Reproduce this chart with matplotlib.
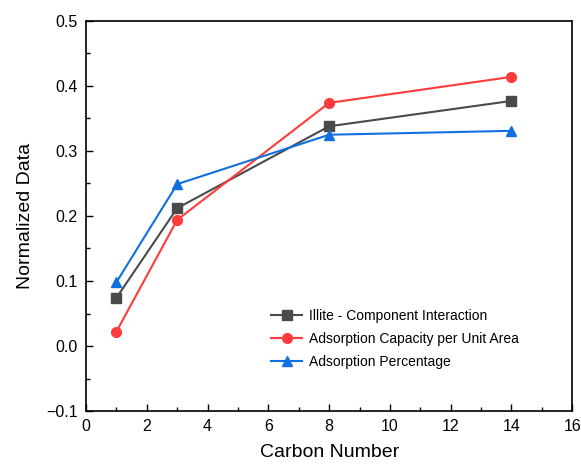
import matplotlib
matplotlib.use("Agg")
import matplotlib.pyplot as plt
from matplotlib.ticker import MultipleLocator, FuncFormatter

plt.rcParams["font.family"] = ["Liberation Sans", "DejaVu Sans"]

carbon = [1, 3, 8, 14]
illite = [0.074, 0.212, 0.338, 0.377]
capacity = [0.022, 0.194, 0.374, 0.414]
percentage = [0.098, 0.249, 0.325, 0.331]

fig = plt.figure(figsize=(5.81, 4.66), dpi=100)
ax = fig.add_axes([0.148, 0.118, 0.837, 0.837])

ax.plot(carbon, illite, color="#4a4a4a", marker="s", ms=6.5, lw=1.5,
        label="Illite - Component Interaction")
ax.plot(carbon, capacity, color="#ff3b3b", marker="o", ms=7, lw=1.5,
        label="Adsorption Capacity per Unit Area")
ax.plot(carbon, percentage, color="#1170e0", marker="^", ms=7.5, lw=1.5,
        label="Adsorption Percentage")

ax.set_xlim(0, 16)
ax.set_ylim(-0.1, 0.5)
ax.xaxis.set_major_locator(MultipleLocator(2))
ax.xaxis.set_minor_locator(MultipleLocator(1))
ax.yaxis.set_major_locator(MultipleLocator(0.1))
ax.yaxis.set_minor_locator(MultipleLocator(0.05))
ax.yaxis.set_major_formatter(FuncFormatter(lambda v, p: f"{v:.1f}".replace("-", "\u2212")))
ax.tick_params(which="both", direction="in", labelsize=11.5, width=1, pad=6)
ax.tick_params(which="major", length=5)
ax.tick_params(which="minor", length=3)
for s in ax.spines.values():
    s.set_linewidth(1.2)

ax.set_xlabel("Carbon Number", fontsize=14, labelpad=7)
ax.set_ylabel("Normalized Data", fontsize=14, labelpad=9)

ax.legend(loc="upper left", bbox_to_anchor=(0.37, 0.275), frameon=False,
          fontsize=10, handlelength=2.2, handletextpad=0.5, labelspacing=0.62,
          borderaxespad=0)

fig.savefig("out.png", dpi=100, facecolor="white")
